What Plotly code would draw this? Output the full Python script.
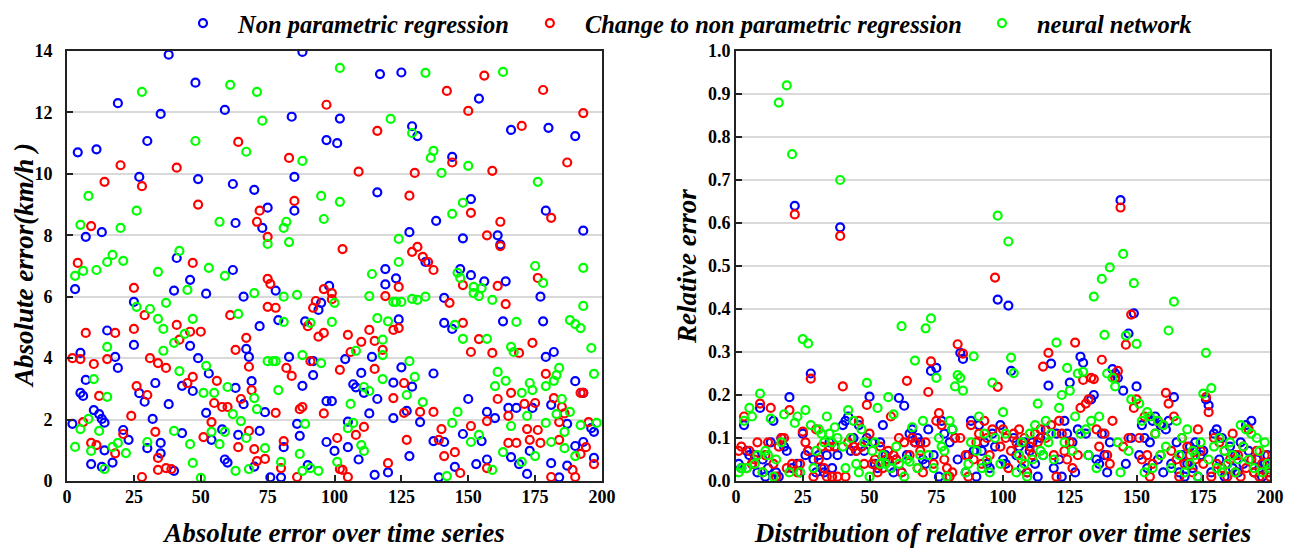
import plotly.graph_objects as go
from plotly.subplots import make_subplots

# ---------------- data: absolute error (left panel) ----------------
abs_npr_x = [2, 3, 4, 5, 5, 6, 7, 7, 9, 10,
             11, 12, 13, 13, 13, 14, 14, 15, 17, 18,
             19, 19, 21, 23, 25, 25, 27, 27, 29, 30,
             30, 32, 33, 35, 35, 35, 38, 38, 40, 40,
             41, 43, 43, 46, 46, 47, 48, 49, 49, 52,
             52, 53, 54, 58, 59, 59, 60, 62, 62, 63,
             63, 64, 66, 66, 67, 68, 69, 70, 70, 72,
             72, 73, 74, 75, 76, 78, 79, 80, 81, 83,
             84, 85, 85, 86, 87, 88, 88, 89, 90, 92,
             92, 94, 95, 97, 97, 97, 98, 99, 100, 101,
             102, 104, 105, 105, 107, 108, 109, 110, 111, 113,
             114, 115, 116, 116, 117, 119, 119, 120, 122, 122,
             123, 124, 125, 125, 127, 128, 128, 129, 129, 131,
             132, 134, 137, 137, 138, 139, 141, 141, 141, 144,
             144, 145, 147, 148, 148, 150, 151, 151, 153, 154,
             155, 156, 157, 157, 160, 161, 162, 163, 164, 165,
             166, 166, 168, 169, 172, 173, 174, 177, 178, 179,
             179, 180, 181, 181, 182, 184, 187, 187, 190, 190,
             190, 193, 193, 193, 196, 197, 197]
abs_npr_y = [1.86, 6.25, 10.7, 4.17, 2.87, 2.77, 3.29, 7.95, 0.55, 2.31,
             10.8, 2.18, 8.1, 2.02, 0.46, 1.9, 1.0, 4.9, 0.6, 4.04,
             12.3, 3.68, 1.66, 1.34, 5.83, 4.43, 2.86, 9.9, 2.58, 11.07,
             1.07, 2.02, 3.19, 0.9, 1.24, 11.95, 13.88, 2.5, 6.2, 0.33,
             7.26, 1.56, 3.1, 4.4, 6.55, 2.93, 12.97, 4.0, 9.83, 6.1,
             2.22, 3.5, 1.34, 1.68, 12.08, 0.7, 0.6, 6.87, 9.67, 8.4,
             3.03, 1.5, 6.0, 2.5, 4.3, 4.04, 3.25, 9.48, 0.47, 1.63,
             5.04, 8.24, 2.24, 8.9, 0.12, 6.2, 5.24, 0.12, 1.1, 4.04,
             11.86, 9.9, 8.8, 1.86, 1.47, 3.1, 13.97, 5.2, 0.52, 3.45,
             3.9, 5.57, 5.8, 2.6, 1.27, 11.1, 6.35, 2.6, 0.98, 11.0,
             11.8, 3.97, 1.1, 1.93, 3.15, 3.05, 0.7, 3.52, 2.87, 2.2,
             4.04, 0.2, 2.67, 9.4, 13.25, 6.4, 6.9, 0.28, 2.05, 3.2,
             6.6, 5.26, 3.7, 13.3, 2.28, 8.1, 0.81, 11.55, 3.07, 11.23,
             1.92, 7.13, 3.5, 1.3, 8.47, 0.12, 5.15, 5.96, 1.27, 10.55,
             4.95, 0.46, 6.9, 7.9, 1.53, 2.67, 6.7, 9.18, 0.55, 12.45,
             1.3, 6.5, 0.7, 2.25, 2.05, 8.0, 7.7, 5.2, 6.5, 2.38,
             11.43, 0.78, 2.38, 0.55, 0.23, 0.98, 2.38, 6.0, 5.2, 8.8,
             4.04, 11.5, 2.48, 0.58, 4.2, 0.12, 0.5, 1.86, 11.23, 3.25,
             1.14, 2.87, 8.15, 1.27, 1.72, 1.6, 0.75]

abs_cnpr_x = [2, 4, 5, 6, 7, 9, 9, 10, 11, 12,
              14, 15, 18, 18, 20, 21, 24, 25, 25, 26,
              28, 28, 29, 30, 31, 33, 34, 34, 34, 37,
              37, 39, 41, 41, 42, 45, 46, 47, 47, 49,
              50, 51, 54, 55, 56, 58, 60, 61, 63, 64,
              64, 65, 67, 68, 68, 69, 70, 71, 71, 72,
              74, 75, 75, 75, 76, 78, 78, 80, 81, 82,
              83, 84, 85, 86, 87, 88, 90, 91, 92, 93,
              94, 96, 96, 96, 97, 99, 99, 101, 102, 102,
              103, 103, 105, 105, 106, 108, 109, 110, 111, 113,
              115, 115, 116, 118, 119, 120, 122, 122, 124, 124,
              126, 126, 127, 128, 129, 130, 131, 132, 133, 135,
              137, 137, 139, 140, 141, 142, 143, 144, 145, 147,
              148, 148, 150, 151, 151, 151, 154, 156, 157, 157,
              157, 159, 159, 161, 161, 162, 162, 164, 165, 166,
              165, 168, 169, 170, 171, 172, 173, 174, 175, 176,
              176, 177, 178, 179, 181, 181, 182, 184, 184, 185,
              186, 187, 189, 190, 192, 192, 193, 193, 194, 195,
              197]
abs_cnpr_y = [4.0, 7.1, 3.97, 1.92, 4.82, 8.3, 1.24, 3.81, 1.17, 2.77,
              9.74, 3.97, 4.82, 0.9, 10.28, 1.53, 2.12, 4.95, 6.29, 3.09,
              0.13, 9.6, 5.4, 2.8, 4.0, 1.6, 0.75, 0.36, 3.84, 0.42,
              3.68, 0.39, 5.08, 10.2, 4.6, 3.19, 4.86, 3.39, 7.1, 9.0,
              4.86, 1.43, 1.92, 2.54, 3.26, 2.41, 2.41, 5.4, 4.27, 1.1,
              11.04, 2.67, 4.66, 3.72, 1.63, 2.96, 1.04, 0.65, 8.44, 8.8,
              0.72, 6.58, 5.67, 7.95, 6.42, 5.64, 2.22, 0.42, 1.3, 3.68,
              10.52, 3.42, 9.12, 0.13, 2.34, 2.41, 5.04, 3.9, 5.64, 5.86,
              4.7, 4.82, 2.2, 6.25, 12.25, 6.12, 5.92, 1.4, 3.62, 0.39,
              0.36, 7.55, 0.13, 4.76, 4.2, 1.5, 10.07, 4.53, 1.76, 4.92,
              4.56, 3.65, 11.4, 4.27, 6.02, 0.58, 4.92, 2.7, 4.98, 6.32,
              3.19, 2.22, 1.34, 9.29, 7.46, 10.03, 7.62, 2.25, 7.3, 7.13,
              6.87, 2.25, 1.34, 1.69, 0.81, 12.7, 5.8, 10.37, 0.94, 0.26,
              6.38, 5.15, 12.05, 8.73, 4.2, 1.79, 4.62, 13.2, 8.0, 1.95,
              0.42, 4.17, 10.1, 6.35, 2.67, 8.44, 7.65, 5.76, 2.12, 2.87,
              1.24, 1.24, 4.17, 11.56, 2.51, 1.69, 1.34, 4.5, 2.54, 6.61,
              1.66, 1.24, 12.73, 3.49, 0.13, 8.57, 2.7, 1.34, 1.92, 2.41,
              2.2, 10.37, 0.36, 0.13, 0.88, 2.87, 2.87, 11.98, 1.1, 1.92,
              0.55]

abs_nn_x = [3, 3, 5, 5, 6, 8, 8, 9, 10, 11,
            12, 14, 15, 15, 15, 17, 17, 19, 20, 21,
            22, 26, 26, 28, 30, 31, 34, 34, 36, 36,
            37, 40, 40, 42, 42, 44, 45, 46, 47, 47,
            48, 50, 51, 52, 53, 54, 55, 57, 57, 59,
            59, 60, 61, 62, 63, 64, 65, 67, 67, 68,
            70, 70, 71, 71, 73, 74, 75, 75, 77, 78,
            79, 80, 81, 81, 81, 82, 83, 86, 87, 88,
            88, 88, 89, 91, 91, 94, 95, 95, 96, 99,
            100, 101, 102, 102, 105, 106, 107, 108, 110, 111,
            111, 113, 113, 114, 116, 118, 118, 118, 120, 121,
            122, 123, 124, 124, 125, 127, 128, 129, 129, 130,
            131, 133, 134, 134, 136, 137, 140, 142, 144, 144,
            145, 146, 146, 147, 148, 148, 150, 151, 152, 152,
            154, 154, 155, 157, 159, 159, 160, 161, 163, 163,
            164, 166, 167, 166, 168, 170, 170, 172, 173, 174,
            175, 175, 176, 178, 179, 179, 181, 182, 183, 183,
            184, 185, 186, 186, 188, 188, 190, 190, 192, 192,
            193, 193, 196, 197, 198]
abs_nn_y = [6.68, 1.11, 1.69, 8.34, 6.84, 9.28, 2.02, 0.98, 3.32, 6.87,
            1.63, 0.39, 2.74, 7.13, 4.37, 1.11, 7.36, 1.24, 8.24, 7.17,
            0.91, 8.8, 5.67, 12.67, 1.27, 5.6, 6.81, 5.28, 4.95, 4.24,
            5.8, 4.5, 1.63, 7.49, 3.58, 4.79, 6.22, 1.2, 5.28, 0.59,
            11.07, 0.1, 2.87, 3.75, 6.94, 1.6, 2.87, 8.44, 1.2, 6.68,
            1.6, 3.06, 12.9, 2.18, 0.33, 5.44, 1.95, 10.72, 1.4, 0.39,
            2.7, 6.12, 12.67, 2.34, 11.73, 1.07, 7.72, 3.9, 3.9, 3.9,
            2.96, 0.62, 8.24, 5.18, 6.0, 8.44, 7.78, 6.06, 0.88, 0.33,
            4.1, 10.42, 1.86, 5.15, 0.42, 0.33, 3.84, 9.28, 8.53, 5.18,
            5.8, 0.62, 9.09, 13.45, 1.72, 2.51, 1.89, 4.24, 1.17, 3.06,
            0.98, 2.93, 6.02, 6.74, 5.3, 4.6, 4.1, 3.32, 5.2, 11.79,
            5.83, 5.83, 7.88, 7.13, 5.83, 2.8, 3.9, 5.93, 11.33, 3.39,
            5.9, 2.57, 6.0, 13.29, 10.52, 10.75, 10.03, 0.16, 8.7, 1.89,
            5.08, 2.25, 6.78, 6.61, 4.63, 9.06, 10.26, 1.27, 6.32, 6.12,
            6.02, 1.5, 6.28, 4.63, 5.9, 0.36, 3.09, 3.55, 0.94, 13.32,
            3.26, 4.37, 4.2, 1.79, 5.18, 0.62, 2.87, 2.12, 3.19, 2.96,
            0.81, 7.0, 9.74, 6.45, 1.89, 3.09, 1.27, 3.26, 3.45, 2.18,
            3.68, 2.67, 1.07, 1.6, 5.24, 2.25, 0.81, 5.11, 4.98, 1.82,
            6.94, 5.7, 4.33, 3.49, 1.89]

# ---------------- data: relative error (right panel) ----------------
time_index = list(range(1, 201))
rel_npr = [0.04, 0.03, 0.13, 0.07, 0.06, 0.04, 0.06, 0.02, 0.17, 0.05,
           0.01, 0.03, 0.09, 0.14, 0.02, 0.01, 0.10, 0.08, 0.07, 0.195,
           0.03, 0.64, 0.04, 0.02, 0.11, 0.06, 0.07, 0.25, 0.05, 0.02,
           0.06, 0.03, 0.02, 0.06, 0.09, 0.03, 0.08, 0.06, 0.59, 0.13,
           0.14, 0.15, 0.07, 0.10, 0.07, 0.13, 0.08, 0.07, 0.10, 0.196,
           0.09, 0.04, 0.03, 0.09, 0.13, 0.06, 0.05, 0.03, 0.02, 0.05,
           0.193, 0.02, 0.175, 0.06, 0.11, 0.12, 0.09, 0.10, 0.09, 0.05,
           0.04, 0.12, 0.256, 0.06, 0.263, 0.01, 0.14, 0.11, 0.01, 0.09,
           0.12, 0.10, 0.05, 0.298, 0.284, 0.02, 0.06, 0.14, 0.07, 0.01,
           0.13, 0.07, 0.09, 0.04, 0.03, 0.11, 0.08, 0.422, 0.13, 0.05,
           0.04, 0.408, 0.256, 0.10, 0.06, 0.08, 0.03, 0.09, 0.02, 0.07,
           0.09, 0.04, 0.01, 0.10, 0.06, 0.12, 0.222, 0.273, 0.03, 0.11,
           0.05, 0.01, 0.14, 0.11, 0.229, 0.09, 0.02, 0.12, 0.289, 0.275,
           0.11, 0.06, 0.19, 0.20, 0.05, 0.04, 0.11, 0.06, 0.02, 0.09,
           0.26, 0.25, 0.24, 0.653, 0.21, 0.04, 0.343, 0.10, 0.39, 0.22,
           0.06, 0.13, 0.10, 0.03, 0.09, 0.14, 0.15, 0.05, 0.13, 0.02,
           0.12, 0.14, 0.04, 0.195, 0.09, 0.02, 0.06, 0.01, 0.04, 0.08,
           0.03, 0.09, 0.01, 0.06, 0.07, 0.19, 0.176, 0.02, 0.11, 0.12,
           0.05, 0.10, 0.01, 0.04, 0.08, 0.03, 0.06, 0.02, 0.09, 0.04,
           0.13, 0.07, 0.14, 0.02, 0.05, 0.03, 0.01, 0.04, 0.06, 0.02]
rel_cnpr = [0.07, 0.08, 0.15, 0.03, 0.07, 0.04, 0.05, 0.09, 0.18, 0.02,
            0.06, 0.09, 0.17, 0.04, 0.01, 0.08, 0.10, 0.10, 0.03, 0.165,
            0.04, 0.62, 0.02, 0.04, 0.115, 0.09, 0.07, 0.238, 0.01, 0.12,
            0.05, 0.08, 0.03, 0.01, 0.08, 0.01, 0.08, 0.01, 0.57, 0.22,
            0.01, 0.09, 0.10, 0.08, 0.07, 0.14, 0.08, 0.04, 0.177, 0.11,
            0.04, 0.05, 0.02, 0.08, 0.03, 0.05, 0.07, 0.15, 0.06, 0.05,
            0.10, 0.02, 0.09, 0.233, 0.06, 0.10, 0.09, 0.03, 0.07, 0.02,
            0.09, 0.207, 0.278, 0.04, 0.14, 0.158, 0.13, 0.05, 0.03, 0.01,
            0.02, 0.10, 0.318, 0.10, 0.296, 0.06, 0.01, 0.13, 0.05, 0.09,
            0.11, 0.04, 0.14, 0.10, 0.06, 0.12, 0.473, 0.219, 0.08, 0.12,
            0.10, 0.03, 0.07, 0.11, 0.09, 0.12, 0.05, 0.10, 0.02, 0.08,
            0.06, 0.11, 0.09, 0.12, 0.266, 0.10, 0.298, 0.13, 0.06, 0.01,
            0.14, 0.11, 0.07, 0.05, 0.09, 0.03, 0.322, 0.06, 0.17, 0.235,
            0.18, 0.19, 0.24, 0.237, 0.12, 0.08, 0.282, 0.11, 0.06, 0.04,
            0.14, 0.24, 0.256, 0.636, 0.08, 0.317, 0.10, 0.387, 0.17, 0.19,
            0.10, 0.05, 0.15, 0.06, 0.01, 0.04, 0.11, 0.14, 0.06, 0.13,
            0.205, 0.18, 0.07, 0.15, 0.05, 0.01, 0.10, 0.04, 0.08, 0.06,
            0.02, 0.05, 0.12, 0.07, 0.04, 0.195, 0.16, 0.01, 0.10, 0.04,
            0.09, 0.03, 0.07, 0.01, 0.05, 0.11, 0.02, 0.06, 0.01, 0.08,
            0.03, 0.12, 0.05, 0.02, 0.07, 0.01, 0.04, 0.06, 0.02, 0.01]
rel_nn = [0.02, 0.03, 0.14, 0.03, 0.17, 0.15, 0.04, 0.06, 0.203, 0.02,
          0.07, 0.06, 0.145, 0.01, 0.05, 0.88, 0.09, 0.155, 0.92, 0.02,
          0.76, 0.135, 0.15, 0.02, 0.33, 0.165, 0.32, 0.13, 0.03, 0.07,
          0.12, 0.11, 0.09, 0.15, 0.11, 0.09, 0.125, 0.10, 0.70, 0.08,
          0.03, 0.165, 0.10, 0.14, 0.04, 0.02, 0.12, 0.09, 0.228, 0.01,
          0.07, 0.09, 0.17, 0.04, 0.06, 0.04, 0.195, 0.03, 0.155, 0.08,
          0.04, 0.36, 0.01, 0.05, 0.045, 0.125, 0.28, 0.03, 0.06, 0.14,
          0.355, 0.06, 0.378, 0.03, 0.24, 0.10, 0.08, 0.07, 0.01, 0.14,
          0.12, 0.22, 0.246, 0.24, 0.21, 0.02, 0.04, 0.09, 0.29, 0.07,
          0.15, 0.03, 0.11, 0.05, 0.02, 0.229, 0.10, 0.617, 0.04, 0.16,
          0.11, 0.557, 0.287, 0.251, 0.02, 0.06, 0.09, 0.04, 0.01, 0.11,
          0.05, 0.13, 0.18, 0.07, 0.06, 0.14, 0.09, 0.11, 0.05, 0.322,
          0.17, 0.20, 0.09, 0.263, 0.21, 0.07, 0.15, 0.25, 0.11, 0.254,
          0.12, 0.06, 0.14, 0.429, 0.03, 0.15, 0.47, 0.34, 0.25, 0.497,
          0.24, 0.22, 0.09, 0.02, 0.528, 0.338, 0.07, 0.19, 0.46, 0.319,
          0.18, 0.14, 0.02, 0.16, 0.15, 0.03, 0.11, 0.14, 0.06, 0.13,
          0.08, 0.35, 0.03, 0.417, 0.14, 0.06, 0.10, 0.02, 0.12, 0.04,
          0.07, 0.06, 0.01, 0.09, 0.203, 0.298, 0.05, 0.216, 0.08, 0.03,
          0.10, 0.02, 0.07, 0.04, 0.09, 0.06, 0.02, 0.05, 0.13, 0.08,
          0.12, 0.05, 0.11, 0.03, 0.10, 0.07, 0.02, 0.09, 0.04, 0.03]

series_names = ["Non parametric regression", "Change to non parametric regression", "neural network"]
series_colors = ["#0000FF", "#FF0000", "#00FF00"]
x_ticks = [0, 25, 50, 75, 100, 125, 150, 175, 200]

SERIF = "Liberation Serif, Times New Roman, serif"

fig = make_subplots(rows=1, cols=2)

left_data = [(abs_npr_x, abs_npr_y), (abs_cnpr_x, abs_cnpr_y), (abs_nn_x, abs_nn_y)]
right_data = [rel_npr, rel_cnpr, rel_nn]

for i in range(3):
    mk = dict(symbol="circle-open", size=8, color=series_colors[i],
              line=dict(width=2.2, color=series_colors[i]))
    fig.add_trace(go.Scatter(x=left_data[i][0], y=left_data[i][1], mode="markers", name=series_names[i],
                             marker=mk, legendgroup=str(i), showlegend=True), row=1, col=1)
    fig.add_trace(go.Scatter(x=time_index, y=right_data[i], mode="markers", name=series_names[i],
                             marker=mk, legendgroup=str(i), showlegend=False), row=1, col=2)

tickfont = dict(family=SERIF, size=18, color="black", weight="bold")
titlefont = dict(family=SERIF, size=27, color="black", weight="bold", style="italic")

axis_common = dict(showline=True, linecolor="#222222", linewidth=2, mirror=True,
                   ticks="inside", ticklen=6, tickwidth=2, tickcolor="#222222",
                   tickfont=tickfont, zeroline=False, automargin=False)

# figure is 1284x540 (page body adds an 8px offset)
fig.update_xaxes(**axis_common, range=[0, 200], tickvals=x_ticks, showgrid=False, ticklabelstandoff=-2)
fig.update_xaxes(domain=[0.0460, 0.4626], row=1, col=1,
                 title=dict(text="Absolute error over time series", font=titlefont, standoff=18))
fig.update_xaxes(domain=[0.5670, 0.9829], row=1, col=2,
                 title=dict(text="Distribution of relative error over time series", font=titlefont, standoff=18))

fig.update_yaxes(**axis_common, showgrid=True, gridcolor="#d9d9d9", gridwidth=1.5)
fig.update_yaxes(range=[0, 14], dtick=2, row=1, col=1, ticklabelstandoff=9)
fig.update_yaxes(range=[0, 1], dtick=0.1, tickformat=".1f", row=1, col=2)

fig.add_annotation(text="Absolute error(km/h )", xref="paper", yref="paper", x=0.0125, y=0.5,
                   textangle=-90, showarrow=False, font=titlefont, xanchor="center", yanchor="middle")
fig.add_annotation(text="Relative error", xref="paper", yref="paper", x=0.5288, y=0.5,
                   textangle=-90, showarrow=False, font=titlefont, xanchor="center", yanchor="middle")

fig.update_layout(
    width=1284, height=540,
    margin=dict(l=0, r=0, t=43, b=67, autoexpand=False),
    paper_bgcolor="white", plot_bgcolor="white",
    legend=dict(orientation="h", x=0.1246, xref="container", y=0.972, yref="container",
                xanchor="left", yanchor="middle",
                itemwidth=60,
                font=dict(family=SERIF, size=24.5, color="black", weight="bold", style="italic"),
                bgcolor="rgba(0,0,0,0)"),
)

fig.write_html("out.html")
